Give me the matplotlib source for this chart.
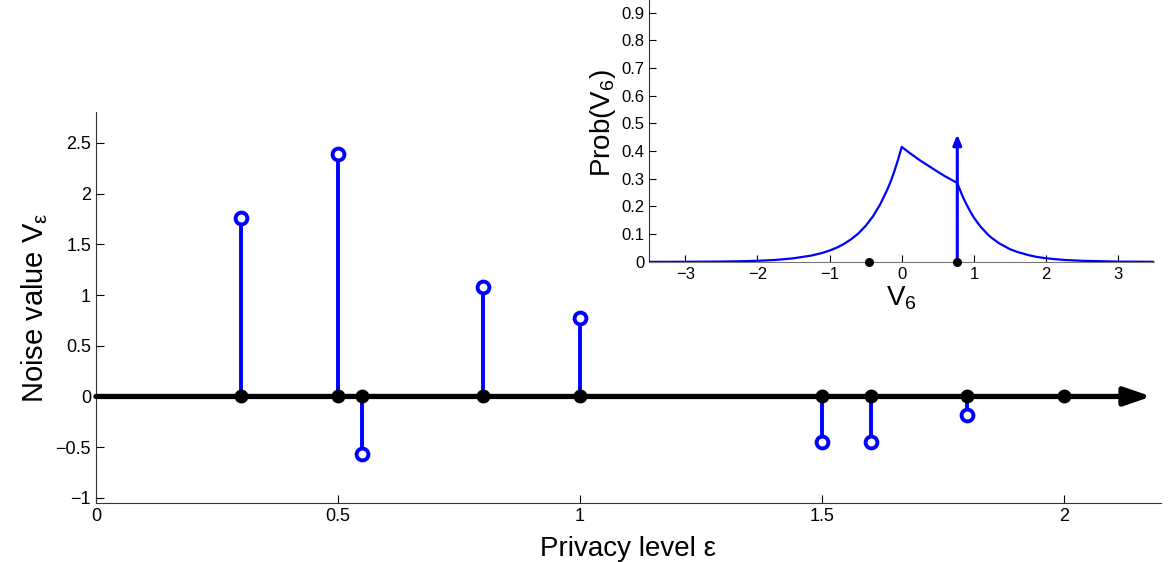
import matplotlib.pyplot as plt
import numpy as np

plt.rcParams['font.family'] = ['Liberation Sans', 'DejaVu Sans']
plt.rcParams['mathtext.fontset'] = 'custom'
plt.rcParams['mathtext.rm'] = 'Liberation Sans'
plt.rcParams['mathtext.it'] = 'Liberation Sans'

# main chart: privacy levels and the noise drawn at each
eps = [0.3, 0.5, 0.55, 0.8, 1.0, 1.5, 1.6, 1.8, 2.0]
noise = [1.76, 2.39, -0.57, 1.08, 0.77, -0.45, -0.45, -0.18, 0.0]
eps_ticks = [0, 0.5, 1, 1.5, 2]
noise_ticks = [-1, -0.5, 0, 0.5, 1, 1.5, 2, 2.5]

# inset: density of V6
v6 = [-3.5, -3.0, -2.5, -2.25, -2.0, -1.75, -1.5, -1.25, -1.1, -1.0, -0.9, -0.8,
      -0.7, -0.6, -0.5, -0.4, -0.3, -0.2, -0.15, -0.1, -0.05, 0.0, 0.1, 0.25,
      0.5, 0.6, 0.77, 0.8, 0.85, 0.9, 0.95, 1.0, 1.05, 1.1, 1.2, 1.25, 1.35,
      1.5, 1.6, 1.75, 1.85, 2.0, 2.25, 2.5, 3.0, 3.5]
prob = [0.0001, 0.0004, 0.0013, 0.0022, 0.004, 0.007, 0.013, 0.023, 0.0324,
        0.041, 0.0514, 0.065, 0.082, 0.103, 0.13, 0.164, 0.207, 0.261, 0.292,
        0.329, 0.370, 0.415, 0.395, 0.367, 0.325, 0.309, 0.285, 0.264, 0.233,
        0.206, 0.182, 0.16, 0.142, 0.125, 0.097, 0.086, 0.067, 0.046, 0.036,
        0.025, 0.019, 0.013, 0.007, 0.004, 0.001, 0.0003]
v6_obs = 0.77
v6_other = -0.45
arrow_top = 0.46
v6_ticks = [-3, -2, -1, 0, 1, 2, 3]
prob_ticks = [0, 0.1, 0.2, 0.3, 0.4, 0.5, 0.6, 0.7, 0.8, 0.9]

fig = plt.figure(figsize=(11.73, 5.62), dpi=100)
ax = fig.add_axes([0.0818, 0.105, 0.908, 0.695])

# stems
for x, y in zip(eps, noise):
    if y != 0:
        ax.plot([x, x], [0, y], color='#0000ff', lw=2.8, zorder=2)
        ax.plot(x, y, 'o', ms=8.5, mfc='white', mec='#0000ff', mew=2.8, zorder=3)

# horizontal arrow along zero
ax.annotate('', xy=(2.18, 0), xytext=(0, 0),
            arrowprops=dict(arrowstyle='-|>,head_length=1.6,head_width=0.55',
                            color='black', lw=3.8, shrinkA=0, shrinkB=0),
            zorder=4)
ax.plot(eps, np.zeros(len(eps)), 'o', color='black', ms=9, zorder=5)

ax.set_xlim(0, 2.2)
ax.set_ylim(-1.05, 2.8)
ax.set_xticks(eps_ticks)
ax.set_xticklabels(['0', '0.5', '1', '1.5', '2'])
ax.set_yticks(noise_ticks)
ax.set_yticklabels(['\u22121', '\u22120.5', '0', '0.5', '1', '1.5', '2', '2.5'])
ax.tick_params(direction='in', length=6, labelsize=13, width=0.8)
ax.spines['top'].set_visible(False)
ax.spines['right'].set_visible(False)
for s in ['left', 'bottom']:
    ax.spines[s].set_color('#333333')
ax.set_xlabel('Privacy level \u03b5', fontsize=20, labelpad=8)
ax.set_ylabel('Noise value V$_{\u03b5}$', fontsize=21, labelpad=4)

# inset
ins = fig.add_axes([0.5535, 0.534, 0.4305, 0.493])
ins.plot(v6, prob, color='#0000ff', lw=1.6, zorder=3)
ins.annotate('', xy=(v6_obs, arrow_top), xytext=(v6_obs, 0),
             arrowprops=dict(arrowstyle='-|>,head_length=0.6,head_width=0.25',
                             color='#0000ff', lw=2.2, shrinkA=0, shrinkB=0),
             zorder=4)
ins.plot([v6_other, v6_obs], [0, 0], 'o', color='black', ms=5.5, zorder=5,
         clip_on=False)
ins.set_xlim(-3.5, 3.5)
ins.set_ylim(0, 1)
ins.set_xticks(v6_ticks)
ins.set_xticklabels(['\u22123', '\u22122', '\u22121', '0', '1', '2', '3'])
ins.set_yticks(prob_ticks)
ins.set_yticklabels(['0', '0.1', '0.2', '0.3', '0.4', '0.5', '0.6', '0.7', '0.8', '0.9'])
ins.tick_params(direction='in', length=5, labelsize=12, width=0.8)
ins.spines['top'].set_visible(False)
ins.spines['right'].set_visible(False)
ins.spines['left'].set_color('#333333')
ins.spines['bottom'].set_color('#777777')
ins.set_xlabel('V$_6$', fontsize=20, labelpad=2)
ins.set_ylabel('Prob(V$_6$)', fontsize=20, labelpad=2)

fig.savefig('out.png', dpi=100)
